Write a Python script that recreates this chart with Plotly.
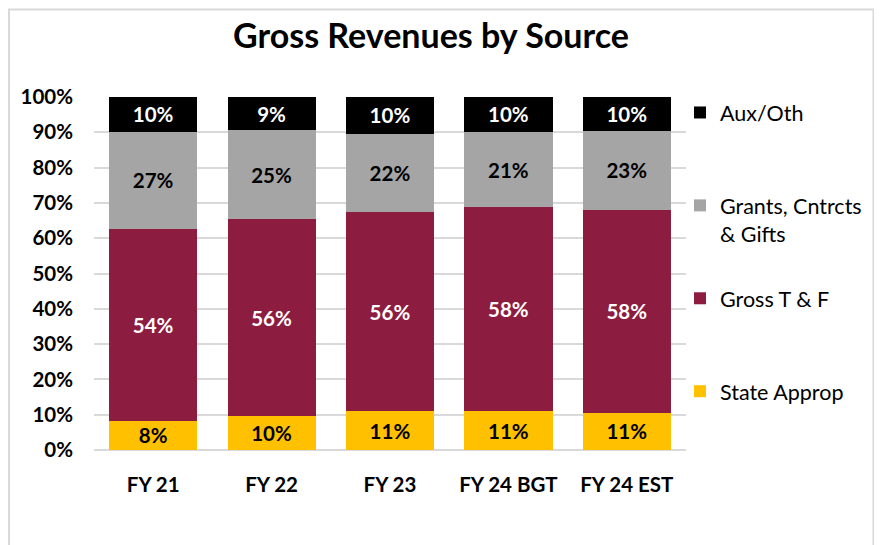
import plotly.graph_objects as go

categories = ["FY 21", "FY 22", "FY 23", "FY 24 BGT", "FY 24 EST"]
state_approp = [8.3, 9.6, 11.0, 11.0, 10.5]
gross_tf = [54.4, 55.7, 56.4, 57.8, 57.5]
grants = [27.4, 25.3, 22.2, 21.3, 22.5]
aux_oth = [9.9, 9.4, 10.4, 9.9, 9.5]
y_ticks = [0, 10, 20, 30, 40, 50, 60, 70, 80, 90, 100]
y_tick_labels = [f"{v}%" for v in y_ticks]

FONT = "Lato"
# name, values, colour, label colour, legend rank, legend text
series = [
    ("State Approp", state_approp, "#FFC000", "black", 4, "State Approp<br> "),
    ("Gross T & F", gross_tf, "#8C1D40", "white", 3, "Gross T & F<br> "),
    ("Grants, Cntrcts & Gifts", grants, "#A5A5A5", "black", 2, "Grants, Cntrcts<br>& Gifts"),
    ("Aux/Oth", aux_oth, "#000000", "white", 1, "Aux/Oth<br> "),
]

fig = go.Figure()
for name, vals, color, tcolor, rank, legtext in series:
    fig.add_trace(go.Bar(
        x=categories, y=vals, name=legtext,
        marker=dict(color=color, line=dict(width=0)),
        texttemplate="%{y:.0f}%",
        textposition="inside",
        insidetextanchor="middle",
        textangle=0,
        textfont=dict(family=FONT, size=20.5, color=tcolor, weight="bold"),
        legendgroup=name,
        legendrank=rank,
        hoverinfo="skip",
    ))

# page is offset by the 8px body margin
OFF = 8
W, H = 882 - OFF, 545 - OFF
L, R, T, B = 94 - OFF, 196, 97 - OFF, 95
pw, ph = W - L - R, H - T - B

def px_x(px):
    return (px - OFF - L) / pw

def px_y(py):
    return (H - B - (py - OFF)) / ph

fig.update_layout(
    width=W, height=H,
    barmode="stack",
    bargap=0.255,
    margin=dict(l=L, r=R, t=T, b=B, pad=0),
    paper_bgcolor="white",
    plot_bgcolor="white",
    font=dict(family=FONT, color="black"),
    title=dict(
        text="<b>Gross Revenues by Source</b>",
        font=dict(family=FONT, size=34, color="black"),
        x=(431 - OFF) / W, xanchor="center",
        y=1 - (36 - OFF) / H, yanchor="middle",
    ),
    uniformtext=dict(minsize=20, mode="show"),
    showlegend=True,
    legend=dict(
        x=px_x(680), xanchor="left",
        y=px_y(92), yanchor="top",
        font=dict(family=FONT, size=21.5, color="black"),
        traceorder="grouped",
        tracegroupgap=34,
        valign="top",
        itemwidth=30,
        maxheight=520,
        bgcolor="rgba(0,0,0,0)",
    ),
    xaxis=dict(
        showgrid=False, showline=False, zeroline=False,
        tickfont=dict(family=FONT, size=20.5, color="black", weight="bold"),
        ticks="", ticklabelstandoff=20,
    ),
    yaxis=dict(
        range=[0, 100],
        tickvals=y_ticks, ticktext=y_tick_labels,
        showgrid=True, gridcolor="#D9D9D9", gridwidth=1.5,
        zeroline=True, zerolinecolor="#D9D9D9", zerolinewidth=1.5,
        showline=False,
        tickfont=dict(family=FONT, size=20.5, color="black", weight="bold"),
        ticks="", ticklabelstandoff=20,
    ),
    shapes=[
        dict(type="rect", xref="paper", yref="paper",
             x0=px_x(9), x1=px_x(873.5),
             y0=px_y(560), y1=px_y(9.5),
             line=dict(color="#D9D9D9", width=2), layer="below"),
    ],
)

fig.write_html("out.html")
